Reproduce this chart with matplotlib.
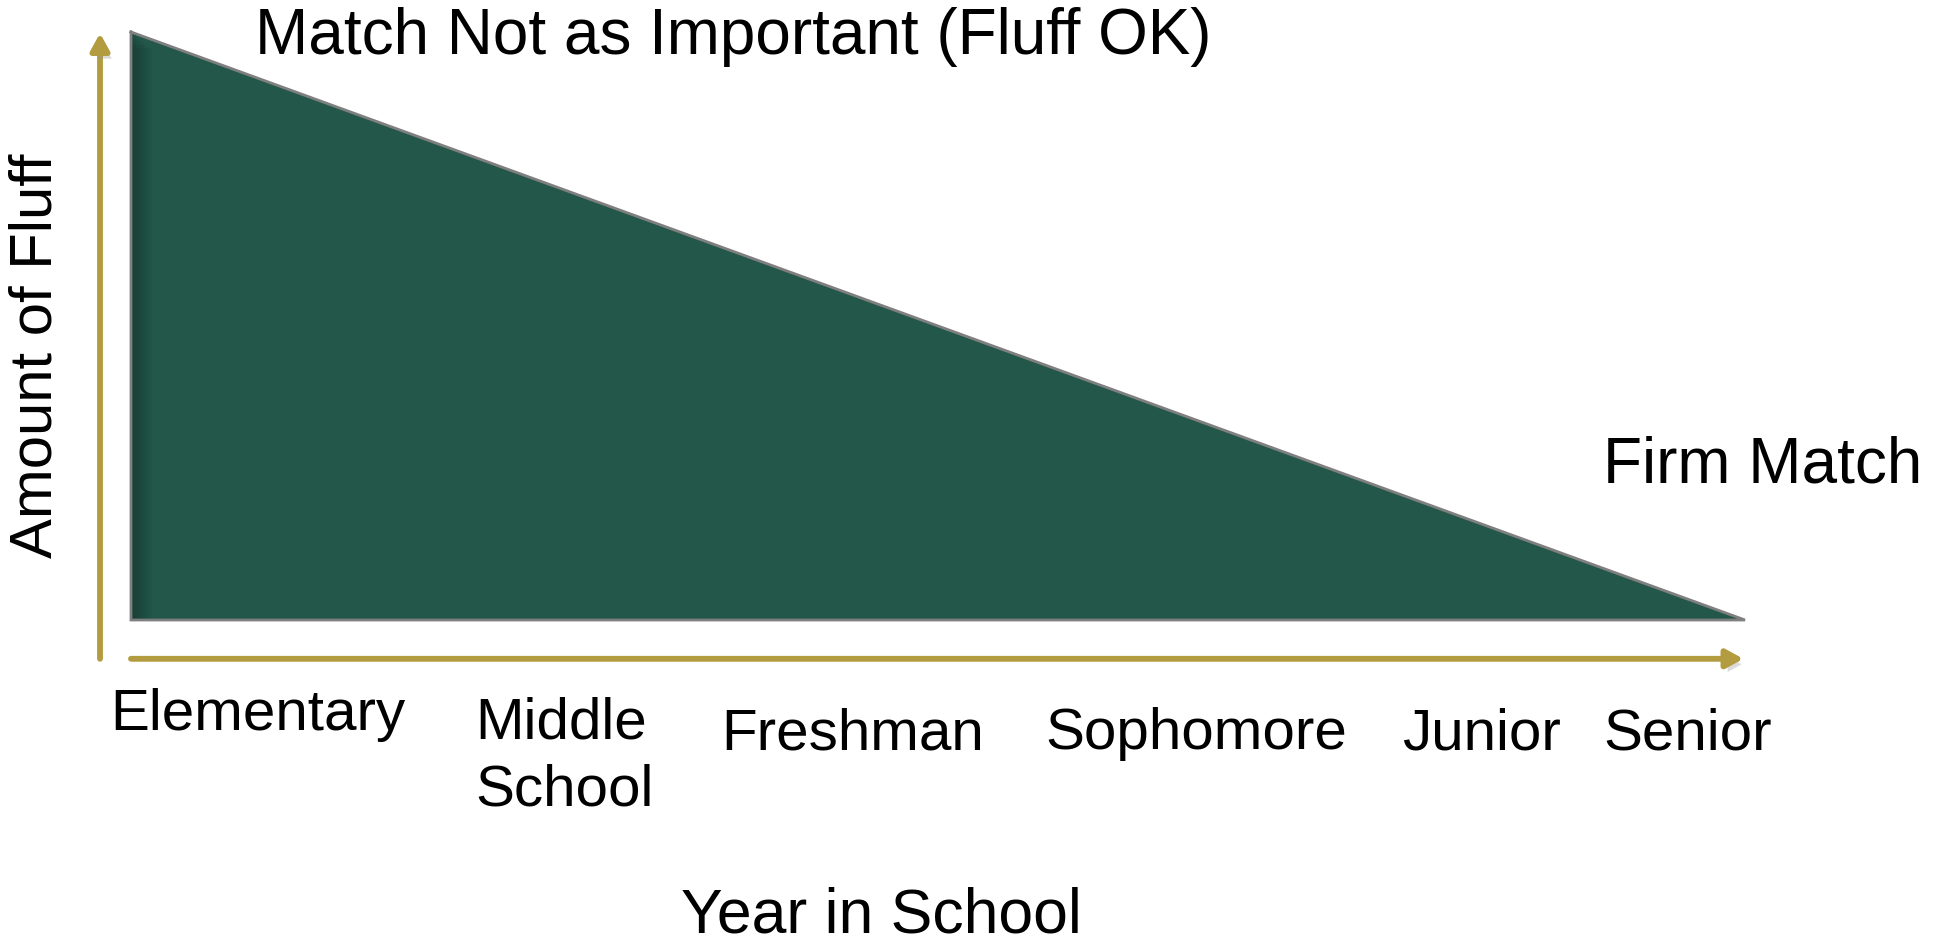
import numpy as np
import matplotlib.pyplot as plt
import matplotlib.patheffects as pe

plt.rcParams['font.family'] = ['Liberation Sans', 'DejaVu Sans']

# ---------------------------------------------------------------
# Data
# ---------------------------------------------------------------
years = ["Elementary", "Middle\nSchool", "Freshman", "Sophomore", "Junior", "Senior"]
fluff = [1.0, 0.8, 0.6, 0.4, 0.2, 0.0]

title_text = "Match Not as Important (Fluff OK)"
end_text = "Firm Match"
x_title = "Year in School"
y_title = "Amount of Fluff"

# ---------------------------------------------------------------
# Layout (pixels of the 1934x944 picture)
# ---------------------------------------------------------------
W, H = 1934, 944
label_px = [258, 475, 853, 1196, 1481, 1688]
label_py = [715, 757, 734, 734, 734, 734]

def fx(px):
    return px / W

def fy(py):
    return 1 - py / H

green = "#23574A"
gold = "#B39C3F"

fig = plt.figure(figsize=(W / 100, H / 100), dpi=100)
ax = fig.add_axes([fx(131), fy(620), fx(1745) - fx(131), fy(32) - fy(620)])

x = np.arange(len(years))
ax.fill_between(x, 0, fluff, color=green, lw=0, zorder=2)
# soft darker band along the left edge (inner shadow)
for i in range(8):
    ax.fill_betweenx([0, fluff[0] - 0.004 * i], 0, 0.008 * (i + 1), color="#0f2a23",
                     alpha=0.07, lw=0, zorder=2)
ax.plot(np.r_[x, x[0], x[0]], np.r_[fluff, 0, fluff[0]], color="#7f7f7f", lw=2,
        solid_joinstyle="miter", zorder=3, clip_on=False)
ax.set_xlim(0, len(years) - 1)
ax.set_ylim(0, 1)
ax.axis("off")

# axis arrows
arrow_kw = dict(arrowstyle="-|>,head_length=1.0,head_width=0.55", color=gold, lw=4.2,
                shrinkA=0, shrinkB=0)
a1 = ax.annotate("", xy=(-0.0192, 0.998), xytext=(-0.0192, -0.066),
                 xycoords="axes fraction", textcoords="axes fraction", arrowprops=arrow_kw)
a2 = ax.annotate("", xy=(0.999, -0.066), xytext=(0.0, -0.066),
                 xycoords="axes fraction", textcoords="axes fraction", arrowprops=arrow_kw)
for a in (a1, a2):
    a.arrow_patch.set_path_effects([pe.SimplePatchShadow(offset=(3, -4), shadow_rgbFace="0.6", alpha=0.35), pe.Normal()])

# texts
fig.text(fx(255), fy(37), title_text, fontsize=46, ha="left", va="center")
fig.text(fx(1603), fy(465), end_text, fontsize=46, ha="left", va="center")
fig.text(fx(881), fy(916), x_title, fontsize=45, ha="center", va="center")
fig.text(fx(36), fy(356), y_title, fontsize=43, ha="center", va="center", rotation=90)

for name, px, py in zip(years, label_px, label_py):
    ha = "left" if "\n" in name else "center"
    fig.text(fx(px), fy(py), name, fontsize=42, ha=ha, va="center", linespacing=1.3)

fig.savefig("out.png", dpi=100)
